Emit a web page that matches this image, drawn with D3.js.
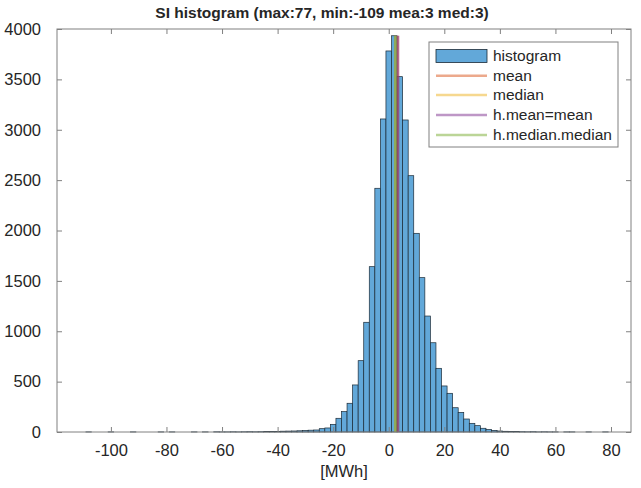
<!DOCTYPE html>
<html>
<head>
<meta charset="utf-8">
<script src="https://cdn.jsdelivr.net/npm/d3@7"></script>
<style>
  body { margin: 0; background: #fff; }
  svg text { font-family: "Liberation Sans", Helvetica, Arial, sans-serif; fill: #262626; }
</style>
</head>
<body>
<svg id="chart" width="641" height="488"></svg>
<script>
// histogram bins: left edges start at -109, width 2
var binStart = -109;
var binWidth = 2;
var counts = [
  1, 0, 0, 0, 1, 0, 0, 0, 1, 0,          // -109 .. -91
  0, 0, 0, 1, 0, 1, 0, 0, 0, 1,          // -89 .. -71
  0, 1, 0, 2, 1, 1, 2, 1, 2, 3,          // -69 .. -51
  2, 3, 4, 5, 6, 8, 9, 10, 12, 15,       // -49 .. -31
  18, 20, 33, 40, 76, 136, 202, 285, 467, 708,        // -29 .. -11
  1089, 1641, 2419, 3107, 3782, 3933, 3527, 3097, 2544, 1972, // -9 .. 9
  1532, 1151, 886, 632, 457, 384, 241, 195, 129, 86,  // 11 .. 29
  63, 37, 25, 16, 10, 7, 5, 4, 3, 2,     // 31 .. 49
  3, 1, 2, 1, 1, 0, 1, 1, 0, 0,          // 51 .. 69
  1, 0, 0, 1                             // 71 .. 77
];
var xTicks = [-100, -80, -60, -40, -20, 0, 20, 40, 60, 80];
var yTicks = [0, 500, 1000, 1500, 2000, 2500, 3000, 3500, 4000];

// vertical marker lines (drawn in this order)
var lineNames = ["mean", "median", "h.mean=mean", "h.median.median"];
var lineValues = [3.3, 2.4, 3.3, 2.4];
var lineColors = ["#D95319", "#EDB120", "#7E2F8E", "#77AC30"];

var titleText = "SI histogram (max:77, min:-109 mea:3 med:3)";
var xLabel = "[MWh]";

var svg = d3.select("#chart");
var plotL = 57, plotR = 631, plotT = 29, plotB = 432;

var x = d3.scaleLinear().domain([-119.4, 87.2]).range([plotL, plotR]);
var y = d3.scaleLinear().domain([0, 4000]).range([plotB, plotT]);

var bins = counts.map(function(c, i) {
  return { x0: binStart + i * binWidth, x1: binStart + (i + 1) * binWidth, n: c };
});

// bars
svg.append("g").selectAll("rect").data(bins).enter().append("rect")
  .attr("x", function(d) { return x(d.x0); })
  .attr("width", function(d) { return x(d.x1) - x(d.x0); })
  .attr("y", function(d) { return y(d.n); })
  .attr("height", function(d) { return y(0) - y(d.n); })
  .attr("fill", "#62a8d9")
  .attr("stroke", "#1b2a36")
  .attr("stroke-width", 0.7);

var maxCount = d3.max(counts);

// mean / median lines
svg.append("g").selectAll("line").data(lineValues).enter().append("line")
  .attr("x1", function(d) { return x(d); })
  .attr("x2", function(d) { return x(d); })
  .attr("y1", y(0))
  .attr("y2", y(maxCount))
  .attr("stroke", function(d, i) { return lineColors[i]; })
  .attr("stroke-opacity", 0.5)
  .attr("stroke-width", 2.6);

// axes, ticks inward
var axisColor = "#808080";
var plain = function(d) { return String(d); };
function styleAxis(g) {
  g.select(".domain").remove();
  g.selectAll(".tick line").attr("stroke", axisColor);
  g.selectAll(".tick text").attr("font-size", "16.5px").attr("fill", "#262626")
    .attr("font-family", "Liberation Sans, Helvetica, Arial, sans-serif");
}
svg.append("g").attr("transform", "translate(0," + plotB + ")")
  .call(d3.axisBottom(x).tickValues(xTicks).tickSizeInner(-5).tickSizeOuter(0).tickPadding(12).tickFormat(plain))
  .call(styleAxis);
svg.append("g").attr("transform", "translate(0," + plotT + ")")
  .call(d3.axisTop(x).tickValues(xTicks).tickSizeInner(-5).tickSizeOuter(0).tickFormat(""))
  .call(styleAxis);
svg.append("g").attr("transform", "translate(" + plotL + ",0)")
  .call(d3.axisLeft(y).tickValues(yTicks).tickSizeInner(-5).tickSizeOuter(0).tickPadding(16).tickFormat(plain))
  .call(styleAxis);
svg.append("g").attr("transform", "translate(" + plotR + ",0)")
  .call(d3.axisRight(y).tickValues(yTicks).tickSizeInner(-5).tickSizeOuter(0).tickFormat(""))
  .call(styleAxis);

// box
svg.append("rect")
  .attr("x", plotL).attr("y", plotT)
  .attr("width", plotR - plotL).attr("height", plotB - plotT)
  .attr("fill", "none").attr("stroke", axisColor).attr("stroke-width", 1);

// title and label
svg.append("text").attr("x", 322).attr("y", 18)
  .attr("text-anchor", "middle").attr("font-size", "15.5px").attr("font-weight", "bold")
  .attr("fill", "#000").text(titleText);
svg.append("text").attr("x", 344).attr("y", 477)
  .attr("text-anchor", "middle").attr("font-size", "16.5px").text(xLabel);

// legend
var lg = svg.append("g").attr("transform", "translate(429,42)");
lg.append("rect").attr("width", 189).attr("height", 105)
  .attr("fill", "#fff").attr("stroke", axisColor).attr("stroke-width", 1);
var rowY = [14, 33.7, 53, 73, 93];
lg.append("rect").attr("x", 7).attr("y", rowY[0] - 6.5).attr("width", 51).attr("height", 13)
  .attr("fill", "#62a8d9").attr("stroke", "#1b2a36").attr("stroke-width", 0.8);
lg.append("text").attr("x", 64).attr("y", rowY[0]).attr("dy", "0.35em")
  .attr("font-size", "15.5px").text("histogram");
lineNames.forEach(function(name, i) {
  var ry = rowY[i + 1];
  lg.append("line").attr("x1", 7).attr("x2", 58).attr("y1", ry).attr("y2", ry)
    .attr("stroke", lineColors[i]).attr("stroke-opacity", 0.5).attr("stroke-width", 2.6);
  lg.append("text").attr("x", 64).attr("y", ry).attr("dy", "0.35em")
    .attr("font-size", "15.5px").text(name);
});
</script>
</body>
</html>
